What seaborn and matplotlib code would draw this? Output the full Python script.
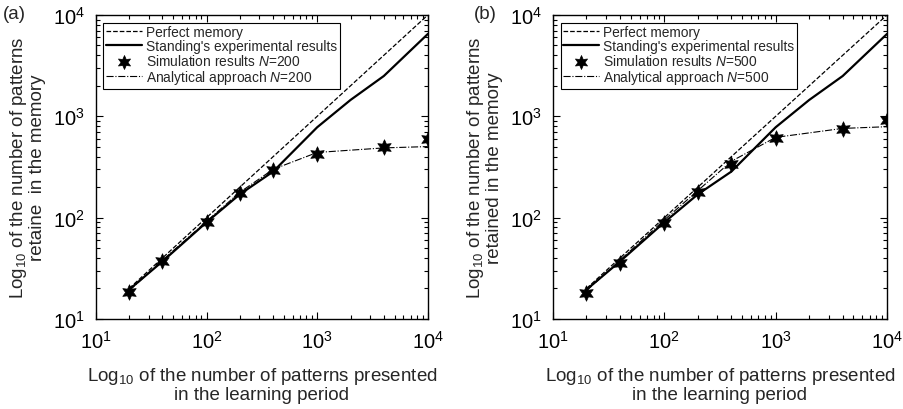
import numpy as np
import pandas as pd
import matplotlib
matplotlib.use("Agg")
import matplotlib.pyplot as plt
import seaborn as sns
from matplotlib.ticker import LogLocator, NullFormatter

# ---- data ----
x_perfect = [20, 10000]
y_perfect = [20, 10000]

x_standing = [20, 40, 100, 200, 400, 1000, 2000, 4000, 10000]
y_standing = [19.5, 37, 90, 170, 285, 780, 1450, 2500, 6500]

x_sim = [20, 40, 100, 200, 400, 1000, 4000, 10000]
y_sim_200 = [18.3, 37.6, 91, 175, 297, 425, 494, 597]
y_sim_500 = [18, 36, 88.5, 178, 338, 607, 750, 926]

x_anal = [20, 40, 100, 200, 400, 1000, 4000, 10000]
y_anal_200 = [19, 38, 92, 178, 300, 440, 488, 503]
y_anal_500 = [19, 38, 95, 185, 360, 620, 760, 790]

panels = ["(a)", "(b)"]
Ns = [200, 500]
ylabels = ["Log$_{10}$ of the number of patterns\nretaine  in the memory",
           "Log$_{10}$ of the number of patterns\nretained in the memory"]
xlabel = "Log$_{10}$ of the number of patterns presented\nin the learning period"

sns.set_style("ticks")
plt.rcParams['font.family'] = ['Liberation Sans', 'DejaVu Sans']
plt.rcParams['mathtext.fontset'] = 'custom'
plt.rcParams['mathtext.rm'] = 'Liberation Sans'
plt.rcParams['mathtext.it'] = 'Liberation Sans:italic'
plt.rcParams['mathtext.bf'] = 'Liberation Sans:bold'

fig = plt.figure(figsize=(9.04, 4.10), dpi=100)
axes = [fig.add_axes([0.106, 0.2195, 0.3673, 0.7415]),
        fig.add_axes([0.6117, 0.2195, 0.3695, 0.7415])]

sims = [y_sim_200, y_sim_500]
anals = [y_anal_200, y_anal_500]
star = (6, 1, 0)

for i, ax in enumerate(axes):
    N = Ns[i]
    sns.lineplot(x=x_perfect, y=y_perfect, ax=ax, color='k', linestyle='--',
                 linewidth=0.9, estimator=None, sort=False, label='Perfect memory')
    sns.lineplot(x=x_standing, y=y_standing, ax=ax, color='k', linestyle='-',
                 linewidth=1.6, estimator=None, sort=False,
                 label="Standing's experimental results")
    sns.scatterplot(x=x_sim, y=sims[i], ax=ax, color='k', marker=star, s=125,
                    edgecolor='k', linewidth=0.5, zorder=5,
                    label=f'Simulation results $N$={N}')
    sns.lineplot(x=x_anal, y=anals[i], ax=ax, color='k', linestyle='-.',
                 linewidth=0.8, estimator=None, sort=False,
                 label=f'Analytical approach $N$={N}')
    ax.set_xscale('log')
    ax.set_yscale('log')
    ax.set_xlim(10, 10000)
    ax.set_ylim(10, 10000)
    ax.xaxis.set_major_locator(LogLocator(base=10, numticks=10))
    ax.yaxis.set_major_locator(LogLocator(base=10, numticks=10))
    ax.xaxis.set_minor_locator(LogLocator(base=10, subs=np.arange(2, 10), numticks=20))
    ax.yaxis.set_minor_locator(LogLocator(base=10, subs=np.arange(2, 10), numticks=20))
    ax.xaxis.set_minor_formatter(NullFormatter())
    ax.yaxis.set_minor_formatter(NullFormatter())
    ax.tick_params(which='both', direction='in', top=True, right=True, colors='k',
                   labelsize=14.5, width=0.8)
    ax.tick_params(which='major', length=5, pad=8)
    ax.tick_params(which='minor', length=3)
    for s in ax.spines.values():
        s.set_color('k')
        s.set_linewidth(1.0)
    ax.set_xlabel(xlabel, fontsize=13.5, labelpad=9, linespacing=1.05)
    ax.set_ylabel(ylabels[i], fontsize=13.5, labelpad=5, linespacing=1.0)
    leg = ax.legend(loc='upper left', fontsize=9.9, frameon=True, fancybox=False,
                    edgecolor='k', framealpha=1, handlelength=2.6, handletextpad=0.3,
                    borderpad=0.2, labelspacing=0.0, borderaxespad=0.55,
                    markerscale=0.9)
    leg.get_frame().set_linewidth(0.8)

fig.text(0.003, 0.965, panels[0], fontsize=13.5, ha='left', va='center')
fig.text(0.524, 0.965, panels[1], fontsize=13.5, ha='left', va='center')

fig.savefig('out.png', dpi=100)
